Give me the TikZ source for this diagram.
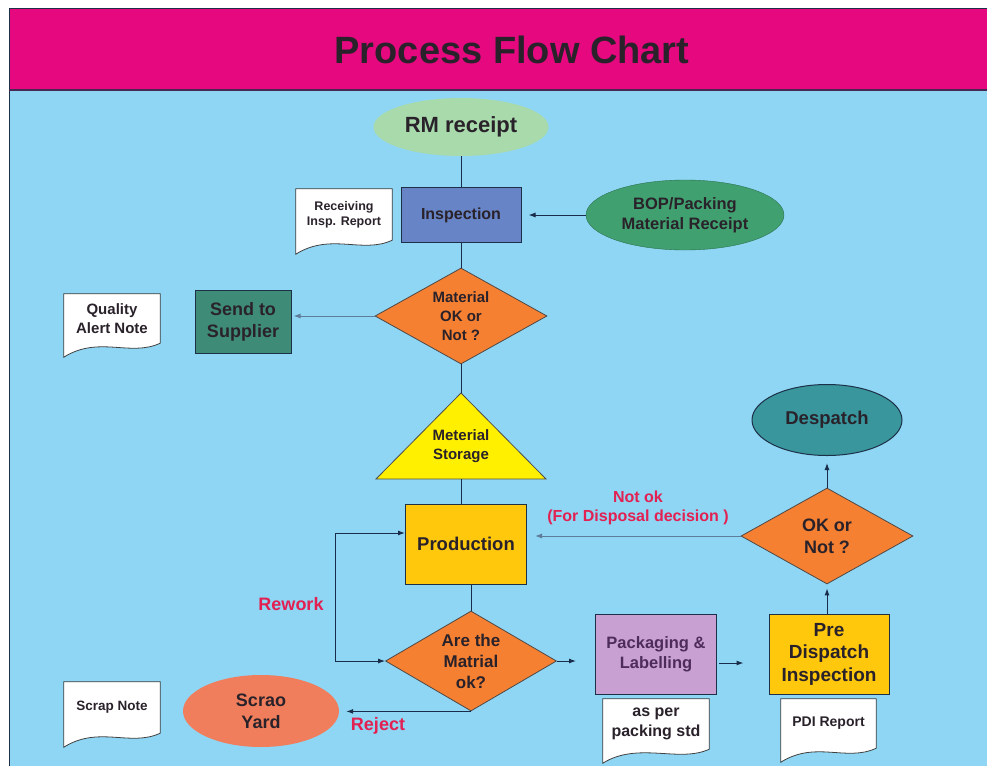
\documentclass[tikz,border=0pt]{standalone}
\usepackage{fontspec}
\setmainfont{Liberation Sans}
\usepackage{xcolor}
\usepackage{tikz}
\usetikzlibrary{shapes.geometric,calc,positioning,arrows.meta}
\definecolor{sky}{RGB}{142,214,244}
\definecolor{banner}{RGB}{229,8,127}
\definecolor{inktext}{RGB}{42,34,42}
\definecolor{edge}{RGB}{30,48,72}
\definecolor{wire}{RGB}{25,45,75}
\definecolor{wirefaint}{RGB}{95,125,155}
\definecolor{rmgreen}{RGB}{168,218,172}
\definecolor{inspblue}{RGB}{102,132,198}
\definecolor{bopgreen}{RGB}{64,160,112}
\definecolor{suppgreen}{RGB}{62,140,120}
\definecolor{diaorange}{RGB}{245,128,50}
\definecolor{storeyellow}{RGB}{255,240,0}
\definecolor{prodyellow}{RGB}{255,200,12}
\definecolor{packlilac}{RGB}{200,160,210}
\definecolor{packtext}{RGB}{78,44,90}
\definecolor{despteal}{RGB}{56,150,156}
\definecolor{yardred}{RGB}{240,126,92}
\definecolor{alertred}{RGB}{226,32,82}
\tikzset{>={Latex[length=7pt,width=5pt]},
    process/.style={draw=edge, line width=1pt, align=center, inner sep=2pt, text=inktext},
    decision/.style={diamond, aspect=1.7, inner sep=0pt, draw=edge!70!brown, line width=0.8pt,
      fill=diaorange, align=center, text=inktext},
    terminal/.style={ellipse, inner sep=0pt, align=center, text=inktext},
    paper/.style={fill=white, inner sep=1pt, align=center, text=inktext},
    paperline/.style={draw=black!75, line width=0.8pt},
    flow/.style={draw=wire, line width=1pt},
    faint/.style={draw=wirefaint, line width=1pt},
    redlabel/.style={text=alertred, align=center}}

\begin{document}
\begin{tikzpicture}[x=1pt, y=-1pt]
    \useasboundingbox (0,0) rectangle (987,766);
    \fill[white] (0,0) rectangle (987,766);
    \fill[sky] (9,8) rectangle (987,766);
    \fill[banner] (9,8) rectangle (987,90);
    \draw[edge, line width=1pt] (987,8) -- (9,8) -- (9,766);
    \draw[edge!80!banner, line width=2pt] (9,90) -- (987,90);
    \node[text=inktext, font=\fontsize{38}{40}\selectfont\bfseries] (title) at (512,50) {Process Flow Chart};

    \node[terminal, fill=rmgreen, minimum width=175pt, minimum height=58pt,
      font=\fontsize{22}{24}\selectfont\bfseries] (rm) at (461,127) {RM receipt};
    \node[process, fill=inspblue, minimum width=120pt, minimum height=55pt,
      font=\fontsize{16}{19}\selectfont\bfseries] (insp) at (461,215) {Inspection};
    \node[terminal, fill=bopgreen, draw=bopgreen!70!black, minimum width=198pt, minimum height=70pt,
      font=\fontsize{16.5}{20}\selectfont\bfseries] (bop) at (685,215) {BOP/Packing\\Material Receipt};
    \node[paper, minimum width=96pt, minimum height=51pt,
      font=\fontsize{12.5}{15}\selectfont\bfseries] (recv) at (344,214.5) {Receiving\\Insp. Report};

    \node[decision, minimum width=172pt, minimum height=96pt,
      font=\fontsize{15}{19}\selectfont\bfseries] (matok) at (461,316) {Material\\OK or\\Not ?};
    \node[process, fill=suppgreen, minimum width=96pt, minimum height=63pt,
      font=\fontsize{18}{22}\selectfont\bfseries] (supp) at (243,322) {Send to\\Supplier};
    \node[paper, minimum width=96pt, minimum height=49pt,
      font=\fontsize{15}{19}\selectfont\bfseries] (alert) at (112,318.5) {Quality\\Alert Note};

    \coordinate (storetop) at (461,393);
    \coordinate (storebase) at (461,479);
    \filldraw[fill=storeyellow, draw=black!70, line width=0.8pt] (376,479) -- (storetop) -- (546,479) -- cycle;
    \node[text=inktext, align=center, font=\fontsize{15}{19}\selectfont\bfseries] (store) at (461,446) {Meterial\\Storage};

    \node[process, fill=prodyellow, minimum width=121pt, minimum height=80pt,
      font=\fontsize{18.5}{22}\selectfont\bfseries] (prod) at (466,544) {Production};
    \node[decision, minimum width=171pt, minimum height=100pt,
      font=\fontsize{17}{21}\selectfont\bfseries] (matrial) at (471,661) {Are the\\Matrial\\ok?};
    \node[terminal, fill=yardred, minimum width=156pt, minimum height=72pt,
      font=\fontsize{18}{22}\selectfont\bfseries] (yard) at (261,711) {Scrao\\Yard};
    \node[paper, minimum width=96pt, minimum height=51pt,
      font=\fontsize{13.5}{16}\selectfont\bfseries] (scrap) at (112,707.5) {Scrap Note};

    \node[process, fill=packlilac, text=packtext, minimum width=121pt, minimum height=80pt,
      font=\fontsize{16.5}{20}\selectfont\bfseries] (pack) at (656,654) {Packaging \&\\Labelling};
    \node[paper, minimum width=106pt, minimum height=50pt,
      font=\fontsize{16}{20}\selectfont\bfseries] (packstd) at (656,724) {as per\\packing std};
    \node[process, fill=prodyellow, minimum width=120pt, minimum height=80pt,
      font=\fontsize{19}{22.5}\selectfont\bfseries] (pdi) at (829,654) {Pre\\Dispatch\\Inspection};
    \node[paper, minimum width=95pt, minimum height=49pt,
      font=\fontsize{14}{17}\selectfont\bfseries] (pdirep) at (828.5,723.5) {PDI Report};

    \node[decision, minimum width=172pt, minimum height=96pt,
      font=\fontsize{18}{22}\selectfont\bfseries] (okornot) at (827,536) {OK or\\Not ?};
    \node[terminal, fill=despteal, draw=edge, line width=1pt, minimum width=150pt, minimum height=71pt,
      font=\fontsize{18.5}{22}\selectfont\bfseries] (desp) at (827,420) {Despatch};

    \foreach \n in {recv, alert, scrap, packstd, pdirep} {
      \fill[white] (\n.south east) .. controls +(-30,14) and +(35,-22) .. ($(\n.south west)+(0,14)$)
        -- (\n.south west) -- cycle;
      \draw[paperline] ($(\n.south west)+(0,14)$) -- (\n.north west) -- (\n.north east) -- (\n.south east)
        .. controls +(-30,14) and +(35,-22) .. ($(\n.south west)+(0,14)$) -- cycle;
    }

    \draw[flow] (rm) -- (insp);
    \draw[flow] (insp) -- (matok);
    \draw[flow, ->, shorten >=7pt] (bop.west) -- (insp.east);
    \draw[faint, ->, shorten >=2pt] (matok.west) -- (matok.west -| supp.east);
    \draw[flow] (matok.south) -- (storetop);
    \draw[flow] (storebase) -- (storebase |- prod.north);
    \draw[flow] (prod.south -| matrial.north) -- (matrial.north);
    \draw[flow, <->] (matrial.west) -- ++(-50,0) |- ($(prod.west)+(0,-11)$);
    \draw[flow, ->, shorten >=7pt] (matrial.south) -- (matrial.south -| yard.east);
    \draw[flow, ->, shorten >=19pt] (matrial.east) -- (matrial.east -| pack.west);
    \draw[flow, ->, shorten <=2pt, shorten >=25pt] ($(pack.east)+(0,9)$) -- ($(pdi.west)+(0,9)$);
    \draw[flow, ->, shorten >=4pt] (pdi.north -| okornot.south) -- (okornot.south);
    \draw[flow, ->, shorten >=7pt] (okornot.north) -- (desp.south);
    \draw[faint, ->, shorten >=8pt] (okornot.west) -- (okornot.west -| prod.east);

    \node[redlabel, font=\fontsize{18}{22}\selectfont\bfseries] (rework) at (291,604) {Rework};
    \node[redlabel, font=\fontsize{18}{22}\selectfont\bfseries] (reject) at (378,726) {Reject};
    \node[redlabel, font=\fontsize{16}{19}\selectfont\bfseries] (notok) at (638,508) {Not ok\\(For Disposal decision )};
\end{tikzpicture}
\end{document}
